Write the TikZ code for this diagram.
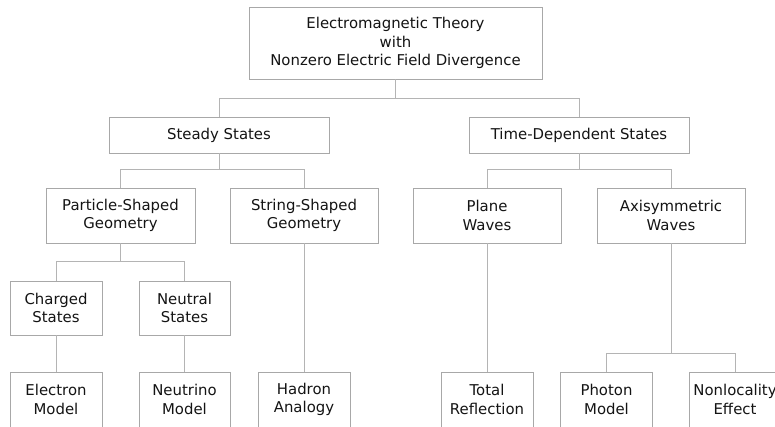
\documentclass[tikz,border=0pt]{standalone}
\usepackage{fontspec}
\setmainfont{DejaVu Sans}
\begin{document}
\begin{tikzpicture}[x=1pt,y=-1pt,
  box/.style={draw=boxgray, line width=0.9pt, fill=white, align=center, inner sep=0pt,
    font=\fontsize{14.9}{18.5}\selectfont, text=black!92},
  wire/.style={draw=wiregray, line width=0.9pt}]
\definecolor{boxgray}{HTML}{A8A8A8}
\definecolor{wiregray}{HTML}{B4B4B4}
\useasboundingbox (0,0) rectangle (775,427);
\clip (0,0) rectangle (775,427);
\fill[white] (0,0) rectangle (775,427);

\node[box, minimum width=293pt, minimum height=72pt] (root) at (395.5,43) {Electromagnetic Theory\\with\\Nonzero Electric Field Divergence};
\node[box, minimum width=220pt, minimum height=36pt] (steady) at (219,135) {Steady States};
\node[box, minimum width=220pt, minimum height=36pt] (tds) at (579,135) {Time-Dependent States};
\node[box, minimum width=149pt, minimum height=55pt] (particle) at (120.5,215.5) {Particle-Shaped\\Geometry};
\node[box, minimum width=148pt, minimum height=55pt] (string) at (304,215.5) {String-Shaped\\Geometry};
\node[box, minimum width=148pt, minimum height=55pt] (plane) at (487,215.5) {Plane\\Waves};
\node[box, minimum width=148pt, minimum height=55pt] (axi) at (671,215.5) {Axisymmetric\\Waves};
\node[box, minimum width=92pt, minimum height=54pt] (charged) at (56,308) {Charged\\States};
\node[box, minimum width=91pt, minimum height=54pt] (neutral) at (184.5,308) {Neutral\\States};
\node[box, minimum width=92pt, minimum height=55pt] (electron) at (56,399.5) {Electron\\Model};
\node[box, minimum width=91pt, minimum height=55pt] (neutrino) at (184.5,399.5) {Neutrino\\Model};
\node[box, minimum width=92pt, minimum height=55pt] (hadron) at (304,399.5) {Hadron\\Analogy};
\node[box, minimum width=92pt, minimum height=55pt] (total) at (487,399.5) {Total\\Reflection};
\node[box, minimum width=92pt, minimum height=55pt] (photon) at (606.5,399.5) {Photon\\Model};
\node[box, minimum width=92pt, minimum height=55pt] (nonloc) at (735,399.5) {Nonlocality\\Effect};

\draw[wire] (root.south) -- ++(0,20);
\draw[wire] (steady.north) -- ++(0,-18) -| (tds.north);
\draw[wire] (steady.south) -- ++(0,17);
\draw[wire] (particle.north) -- ++(0,-18) -| (string.north);
\draw[wire] (tds.south) -- ++(0,17);
\draw[wire] (plane.north) -- ++(0,-18) -| (axi.north);
\draw[wire] (particle.south) -- ++(0,19);
\draw[wire] (charged.north) -- ++(0,-19) -| (neutral.north);
\draw[wire] (charged.south) -- (electron.north);
\draw[wire] (neutral.south) -- (neutrino.north);
\draw[wire] (string.south) -- (hadron.north);
\draw[wire] (plane.south) -- (total.north);
\draw[wire] (axi.south) -- ++(0,111);
\draw[wire] (photon.north) -- ++(0,-18) -| (nonloc.north);
\end{tikzpicture}
\end{document}
